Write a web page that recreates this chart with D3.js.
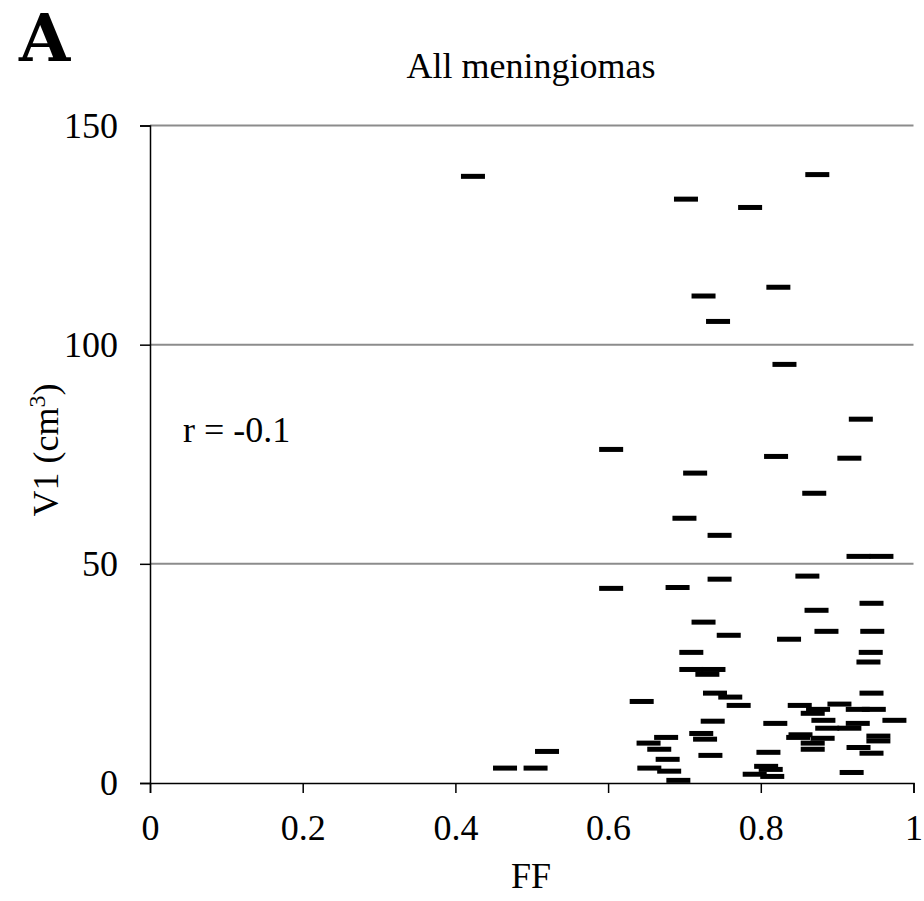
<!DOCTYPE html>
<html>
<head>
<meta charset="utf-8">
<script src="https://cdn.jsdelivr.net/npm/d3@7"></script>
<style>
  body { margin: 0; background: #fff; }
  text { font-family: "Liberation Serif", "Times New Roman", serif; fill: #000; }
</style>
</head>
<body>
<script>
// values
var ff = [0.423, 0.874, 0.702, 0.786, 0.823, 0.725, 0.744, 0.831, 0.931, 0.604,
          0.820, 0.916, 0.714, 0.870, 0.700, 0.746, 0.928, 0.958, 0.746, 0.604,
          0.691, 0.725, 0.758, 0.709, 0.709, 0.738, 0.730, 0.740, 0.760, 0.771,
          0.644, 0.737, 0.722, 0.727, 0.676, 0.653, 0.667, 0.734, 0.678, 0.654,
          0.680, 0.692, 0.861, 0.945, 0.873, 0.886, 0.946, 0.837, 0.944, 0.941,
          0.945, 0.851, 0.903, 0.875, 0.868, 0.927, 0.948, 0.975, 0.819, 0.882,
          0.927, 0.887, 0.916, 0.852, 0.849, 0.881, 0.954, 0.954, 0.868, 0.868,
          0.928, 0.945, 0.810, 0.807, 0.813, 0.792, 0.815, 0.919, 0.520, 0.465,
          0.505];
var v1 = [138.4, 138.8, 133.2, 131.3, 113.1, 111.1, 105.3, 95.5, 83.0, 76.1,
          74.5, 74.1, 70.7, 66.1, 60.4, 56.5, 51.7, 51.7, 46.5, 44.4,
          44.6, 36.7, 33.7, 29.8, 25.9, 25.9, 24.8, 20.5, 19.6, 17.7,
          18.6, 14.1, 11.3, 10.0, 10.4, 9.1, 7.7, 6.3, 5.4, 3.4,
          2.7, 0.6, 47.2, 41.0, 39.4, 34.6, 34.6, 32.8, 29.8, 27.6,
          20.5, 17.7, 18.0, 16.8, 15.9, 16.8, 16.8, 14.3, 13.6, 14.3,
          13.6, 12.5, 12.5, 11.0, 10.4, 10.2, 10.7, 9.6, 9.1, 7.7,
          8.1, 6.8, 7.0, 3.8, 3.1, 2.0, 1.5, 2.4, 7.2, 3.4,
          3.4];
var xTicks = [0, 0.2, 0.4, 0.6, 0.8, 1];
var yTicks = [0, 50, 100, 150];
var gridValues = [50, 100, 150];

var width = 924, height = 901;
var x = d3.scaleLinear().domain([0, 1]).range([150, 913.5]);
var y = d3.scaleLinear().domain([0, 150]).range([783, 125.5]);

var svg = d3.select("body").append("svg")
    .attr("width", width)
    .attr("height", height);

// gridlines
svg.append("g")
  .selectAll("line")
  .data(gridValues)
  .enter().append("line")
    .attr("x1", x(0))
    .attr("x2", x(1))
    .attr("y1", function(d) { return y(d); })
    .attr("y2", function(d) { return y(d); })
    .attr("stroke", "#8c8c8c")
    .attr("stroke-width", 2);

// points (short horizontal dashes)
var dashW = 24, dashH = 5;
svg.append("g")
  .selectAll("rect")
  .data(d3.range(ff.length))
  .enter().append("rect")
    .attr("x", function(i) { return x(ff[i]) - dashW / 2; })
    .attr("y", function(i) { return y(v1[i]) - dashH / 2; })
    .attr("width", dashW)
    .attr("height", dashH)
    .attr("fill", "#000");

// axes
var yAxis = svg.append("g")
    .attr("transform", "translate(" + x(0) + ",0)")
    .call(d3.axisLeft(y).tickValues(yTicks).tickSize(10).tickPadding(22)
      .tickFormat(d3.format("d")));
var xAxis = svg.append("g")
    .attr("transform", "translate(0," + y(0) + ")")
    .call(d3.axisBottom(x).tickValues(xTicks).tickSize(10).tickPadding(21)
      .tickFormat(function(d) { return d === 0 || d === 1 ? d3.format("d")(d) : d3.format(".1f")(d); }));

[xAxis, yAxis].forEach(function(g) {
  g.selectAll("path, line").attr("stroke", "#000").attr("stroke-width", 1.5);
  g.selectAll("text")
    .style("font-family", '"Liberation Serif", "Times New Roman", serif')
    .style("font-size", "36px")
    .attr("fill", "#000");
});

// labels
svg.append("text")
    .attr("x", 19).attr("y", 61)
    .style("font-family", '"DejaVu Serif", serif')
    .style("font-weight", "bold")
    .style("font-size", "66px")
    .text("A");

svg.append("text")
    .attr("x", 531).attr("y", 78)
    .attr("text-anchor", "middle")
    .style("font-size", "36px")
    .text("All meningiomas");

svg.append("text")
    .attr("x", 183).attr("y", 442)
    .style("font-size", "36px")
    .text("r = -0.1");

svg.append("text")
    .attr("x", 531).attr("y", 888)
    .attr("text-anchor", "middle")
    .style("font-size", "36px")
    .text("FF");

var yl = svg.append("text")
    .attr("transform", "translate(58,450) rotate(-90)")
    .attr("text-anchor", "middle")
    .style("font-size", "36px");
yl.append("tspan").text("V1 (cm");
yl.append("tspan").attr("baseline-shift", "super").style("font-size", "24px").text("3");
yl.append("tspan").text(")");
</script>
</body>
</html>
